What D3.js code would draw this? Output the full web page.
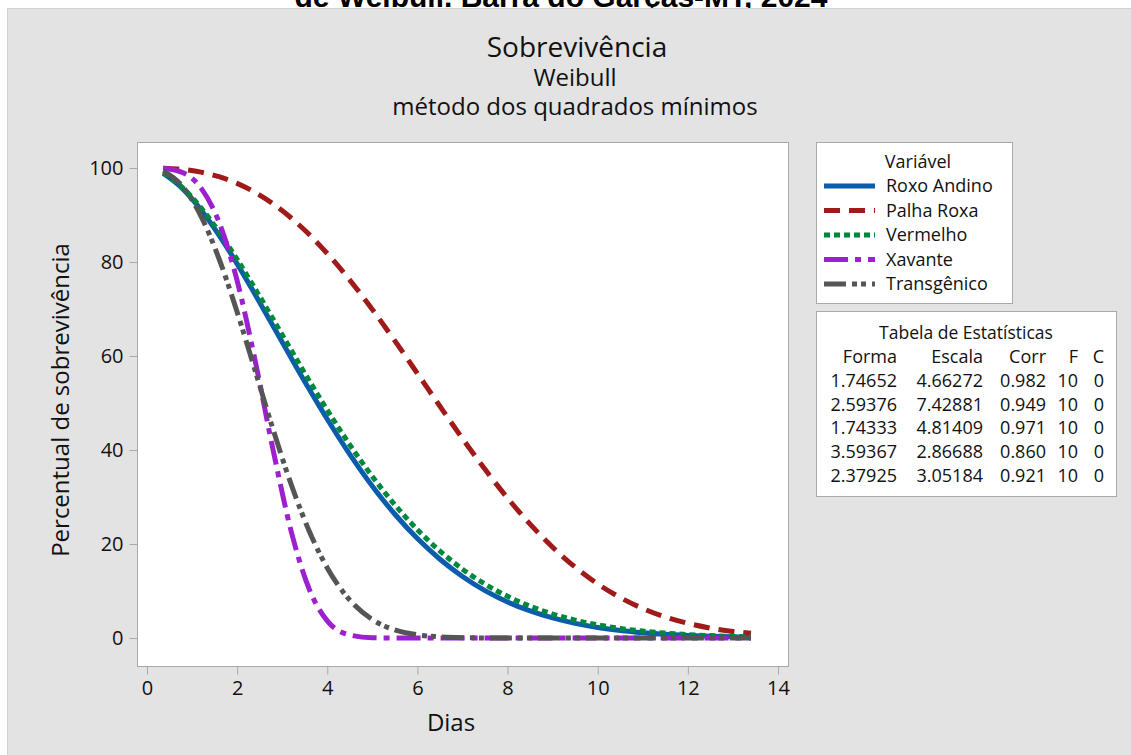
<!DOCTYPE html>
<html><head><meta charset="utf-8">
<script src="https://cdn.jsdelivr.net/npm/d3@7"></script>
<style>
body{margin:0;background:#fff;}
svg{display:block;}
text{font-family:"Open Sans","Noto Sans",sans-serif;fill:#111;}
</style>
</head><body>
<svg id="c" width="1131" height="755"></svg>
<script>
// ---- data ----
const days = [0.36,0.8,1.2,1.6,2.0,2.4,2.8,3.2,3.6,4.0,4.5,5.0,5.5,6.0,6.5,7.0,7.5,8.0,8.5,9.0,9.5,10.0,10.5,11.0,11.5,12.0,12.5,13.0,13.4];
const roxoAndino  = [98.87,95.50,91.08,85.69,79.61,73.09,66.34,59.56,52.91,46.53,39.07,32.31,26.33,21.15,16.76,13.09,10.09,7.67,5.76,4.27,3.12,2.25,1.61,1.14,0.79,0.55,0.37,0.25,0.18];
const palhaRoxa   = [99.96,99.69,99.12,98.15,96.73,94.80,92.35,89.36,85.84,81.81,76.15,69.90,63.22,56.29,49.30,42.44,35.88,29.77,24.22,19.31,15.07,11.51,8.60,6.28,4.48,3.12,2.11,1.40,0.99];
const vermelho    = [98.92,95.72,91.51,86.37,80.55,74.29,67.79,61.22,54.74,48.48,41.10,34.36,28.33,23.04,18.49,14.65,11.46,8.86,6.76,5.10,3.80,2.80,2.04,1.47,1.04,0.73,0.51,0.35,0.26];
const xavante     = [99.94,98.99,95.72,88.43,76.02,58.98,39.90,22.66,10.37,3.65,0.64,0.06,0.00,0,0,0,0,0,0,0,0,0,0,0,0,0,0,0,0];
const transgenico = [99.38,95.95,89.72,80.64,69.36,56.86,44.28,32.65,22.73,14.90,8.05,3.93,1.72,0.68,0.24,0.07,0.02,0.01,0,0,0,0,0,0,0,0,0,0,0];

const seriesNames = ["Roxo Andino","Palha Roxa","Vermelho","Xavante","Transgênico"];
const seriesValues = [roxoAndino, palhaRoxa, vermelho, xavante, transgenico];

const forma  = ["1.74652","2.59376","1.74333","3.59367","2.37925"];
const escala = ["4.66272","7.42881","4.81409","2.86688","3.05184"];
const corr   = ["0.982","0.949","0.971","0.860","0.921"];
const fCol   = ["10","10","10","10","10"];
const cCol   = ["0","0","0","0","0"];

const xTicks = [0,2,4,6,8,10,12,14];
const yTicks = [0,20,40,60,80,100];

// ---- styles ----
const colors = ["#0b5cab","#a01a1a","#00883c","#9c1fd0","#555555"];
const dashes = [null,"16,9","6,4","24,7,6,7","22,6,5,4,5,6"];

const svg = d3.select("#c");

// cut-off outer title
svg.append("text").attr("x",561).attr("y",7).attr("text-anchor","middle")
  .style("font-family","'Liberation Sans',Arial,sans-serif").style("font-weight","bold")
  .style("font-size","30px").style("fill","#000")
  .text("de Weibull. Barra do Garças-MT, 2024");

// gray panel
svg.append("rect").attr("x",7.5).attr("y",8.5).attr("width",1130).attr("height",750)
  .attr("fill","#e3e3e3").attr("stroke","#d2d2d2");

// titles
svg.append("text").attr("x",577).attr("y",57).attr("text-anchor","middle").style("font-size","28px").text("Sobrevivência");
svg.append("text").attr("x",575).attr("y",86).attr("text-anchor","middle").style("font-size","24px").text("Weibull");
svg.append("text").attr("x",575).attr("y",115).attr("text-anchor","middle").style("font-size","24px").text("método dos quadrados mínimos");

// plot area
const L=137, R=788, T=142, B=666;
svg.append("rect").attr("x",L+0.5).attr("y",T+0.5).attr("width",R-L).attr("height",B-T)
  .attr("fill","#fff").attr("stroke","#a9a9a9");

const x = d3.scaleLinear().domain([0,14]).range([147,778]);
const y = d3.scaleLinear().domain([0,100]).range([638,168]);

// axes
const xAxis = svg.append("g").attr("transform",`translate(0,${B+0.5})`)
  .call(d3.axisBottom(x).tickValues(xTicks).tickSize(8).tickPadding(6).tickFormat(d3.format("d")));
const yAxis = svg.append("g").attr("transform",`translate(${L+0.5},0)`)
  .call(d3.axisLeft(y).tickValues(yTicks).tickSize(8).tickPadding(6).tickFormat(d3.format("d")));
[xAxis,yAxis].forEach(g=>{
  g.select(".domain").remove();
  g.selectAll(".tick line").attr("stroke","#a9a9a9");
  g.selectAll(".tick text").style("font-size","20px").style("font-family","'Open Sans',sans-serif").attr("fill","#111");
});

svg.append("text").attr("x",451).attr("y",731).attr("text-anchor","middle").style("font-size","24px").text("Dias");
svg.append("text").attr("transform","translate(69,400) rotate(-90)").attr("text-anchor","middle").style("font-size","24px").text("Percentual de sobrevivência");

// lines
const line = d3.line().x((d,i)=>x(days[i])).y(d=>y(d)).curve(d3.curveMonotoneX);
seriesValues.forEach((vals,k)=>{
  svg.append("path").datum(vals).attr("d",line).attr("fill","none")
    .attr("stroke",colors[k]).attr("stroke-width",5)
    .attr("stroke-dasharray",dashes[k]);
});

// legend
const lg = svg.append("g");
lg.append("rect").attr("x",816.5).attr("y",142.5).attr("width",196).attr("height",161).attr("fill","#fff").attr("stroke","#a9a9a9");
lg.append("text").attr("x",918).attr("y",168).attr("text-anchor","middle").style("font-size","18px").text("Variável");
seriesNames.forEach((n,k)=>{
  const cy = 186 + k*24.5;
  lg.append("line").attr("x1",824).attr("x2",875).attr("y1",cy).attr("y2",cy)
    .attr("stroke",colors[k]).attr("stroke-width",5).attr("stroke-dasharray",dashes[k]);
  lg.append("text").attr("x",886).attr("y",cy+6).style("font-size","18px").text(n);
});

// stats table
const tb = svg.append("g");
tb.append("rect").attr("x",816.5).attr("y",311.5).attr("width",300).attr("height",185).attr("fill","#fff").attr("stroke","#a9a9a9");
tb.append("text").attr("x",966).attr("y",339).attr("text-anchor","middle").style("font-size","17.5px").text("Tabela de Estatísticas");
const colRight = [897,983,1046,1078,1104];
const headers = ["Forma","Escala","Corr","F","C"];
headers.forEach((h,j)=>tb.append("text").attr("x",colRight[j]).attr("y",363).attr("text-anchor","end").style("font-size","18px").text(h));
const cols = [forma,escala,corr,fCol,cCol];
forma.forEach((_,i)=>{
  cols.forEach((c,j)=>tb.append("text").attr("x",colRight[j]).attr("y",387+i*23.7).attr("text-anchor","end").style("font-size","18px").text(c[i]));
});
</script>
</body></html>
